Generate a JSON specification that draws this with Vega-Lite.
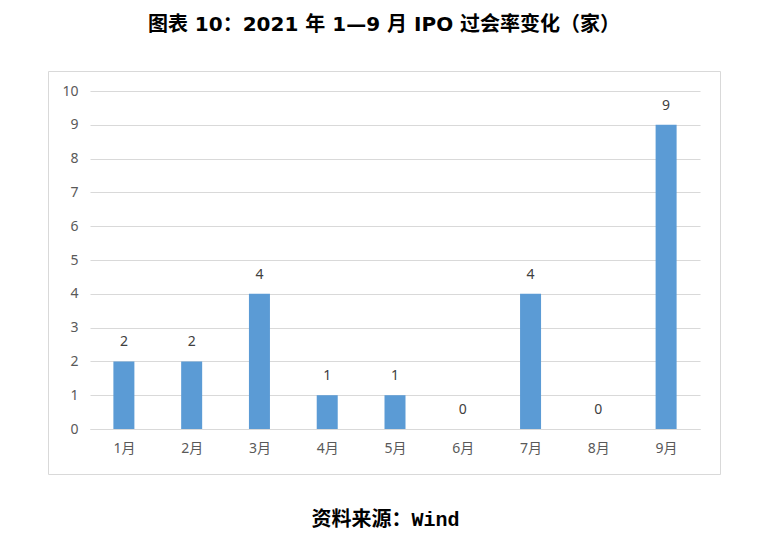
{
  "$schema": "https://vega.github.io/schema/vega-lite/v6.json",
  "width": 672,
  "height": 403,
  "autosize": {"type": "none"},
  "padding": {"left": 48, "top": 71, "right": 58, "bottom": 64},
  "background": "white",
  "title": {
    "text": "图表 10：2021 年 1—9 月 IPO 过会率变化（家）",
    "font": "DejaVu Sans, Noto Sans CJK SC",
    "fontSize": 20,
    "fontWeight": "bold",
    "color": "#000000",
    "anchor": "middle",
    "offset": 36
  },
  "config": {
    "view": {"stroke": "#D9D9D9", "strokeWidth": 1},
    "axis": {
      "labelFont": "Noto Sans, Noto Sans CJK SC",
      "labelFontSize": 14,
      "labelColor": "#595959"
    }
  },
  "data": {
    "values": [
      {"month": 1, "count": 2},
      {"month": 2, "count": 2},
      {"month": 3, "count": 4},
      {"month": 4, "count": 1},
      {"month": 5, "count": 1},
      {"month": 6, "count": 0},
      {"month": 7, "count": 4},
      {"month": 8, "count": 0},
      {"month": 9, "count": 9}
    ]
  },
  "layer": [
    {
      "mark": {"type": "bar", "size": 21, "color": "#5B9BD5"},
      "encoding": {
        "x": {
          "field": "month",
          "type": "quantitative",
          "scale": {"domain": [0.5, 9.5], "range": [42, 652], "nice": false, "zero": false, "padding": 0},
          "axis": {
            "values": [1, 2, 3, 4, 5, 6, 7, 8, 9],
            "labelExpr": "datum.value + '月'",
            "offset": -45,
            "domain": true,
            "domainColor": "#D9D9D9",
            "domainWidth": 1,
            "ticks": false,
            "tickSize": 0,
            "labelPadding": 12,
            "grid": false,
            "title": "资料来源：Wind",
            "titleFont": "Liberation Mono, Noto Sans CJK SC",
            "titleFontSize": 20,
            "titleFontWeight": "bold",
            "titleColor": "#000000",
            "titlePadding": 54,
            "titleX": 337
          }
        },
        "y": {
          "field": "count",
          "type": "quantitative",
          "scale": {"domain": [0, 10], "range": [358, 20], "nice": false, "zero": true},
          "axis": {
            "values": [0, 1, 2, 3, 4, 5, 6, 7, 8, 9, 10],
            "offset": -30,
            "domain": false,
            "ticks": false,
            "tickSize": 0,
            "labelPadding": 0,
            "labelAlign": "right",
            "grid": true,
            "gridColor": "#D9D9D9",
            "gridWidth": 1,
            "title": null
          }
        }
      }
    },
    {
      "mark": {"type": "text", "dy": -15, "baseline": "alphabetic", "fontSize": 14, "font": "Noto Sans", "color": "#404040"},
      "encoding": {
        "x": {"field": "month", "type": "quantitative"},
        "y": {"field": "count", "type": "quantitative"},
        "text": {"field": "count", "type": "quantitative"}
      }
    }
  ]
}
